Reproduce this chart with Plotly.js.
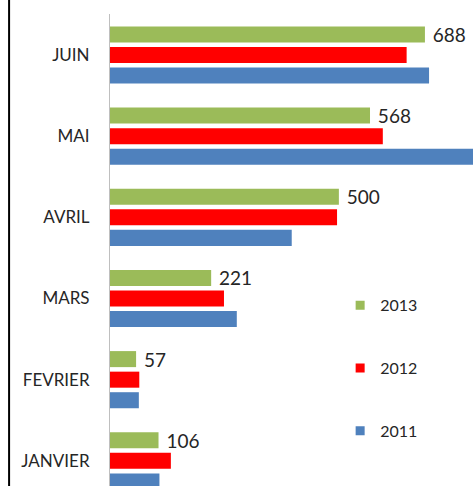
<!DOCTYPE html>
<html><head><meta charset="utf-8">
<script src="https://cdn.plot.ly/plotly-3.0.1.min.js"></script>
<style>html,body{margin:0;padding:0;background:#fff;}#chart{width:473px;height:486px;}</style>
</head><body><div id="chart"></div>
<script>
const categories = ['JANVIER', 'FEVRIER', 'MARS', 'AVRIL', 'MAI', 'JUIN'];
const years = ['2011', '2012', '2013'];
const legendYears = ['2013', '2012', '2011'];
const values2011 = [108, 63, 277, 397, 810, 697];
const values2012 = [133, 64, 249, 496, 596, 648];
const values2013 = [106, 57, 221, 500, 568, 688];
const colors = {'2011': '#4F81BD', '2012': '#FF0000', '2013': '#9BBB59'};
const seriesValues = {'2011': values2011, '2012': values2012, '2013': values2013};

const font = 'Lato, "Open Sans", sans-serif';
const traces = [];
years.forEach(function (yr) {
  const t = {
    type: 'bar', orientation: 'h', name: yr,
    y: categories, x: seriesValues[yr],
    marker: {color: colors[yr], line: {width: 0}},
    showlegend: false, hoverinfo: 'none'
  };
  if (yr === '2013') {
    t.texttemplate = '\u00a0%{x}';
    t.textposition = 'outside';
    t.constraintext = 'none';
    t.cliponaxis = false;
    t.textfont = {family: font, size: 19, color: '#262626'};
  }
  traces.push(t);
});
legendYears.forEach(function (yr) {
  traces.push({
    type: 'scatter', mode: 'markers', name: yr, legendgroup: yr,
    x: [null], y: [null],
    marker: {symbol: 'square', size: 9, color: colors[yr]},
    hoverinfo: 'none'
  });
});

const layout = {
  width: 473, height: 486,
  margin: {l: 110, r: 0, t: 14, b: 0, pad: 0},
  paper_bgcolor: '#ffffff', plot_bgcolor: '#ffffff',
  font: {family: font, color: '#262626'},
  barmode: 'group', bargap: 0.24, bargroupgap: 0.22,
  xaxis: {range: [0, 793], visible: false, fixedrange: true},
  yaxis: {
    type: 'category', range: [-0.31, 5.505], showgrid: false, zeroline: false,
    showline: true, linecolor: '#BFBFBF', linewidth: 1,
    ticks: '', ticklabelstandoff: 16,
    tickfont: {family: font, size: 17, color: '#262626'}
  },
  showlegend: true,
  legend: {
    x: 0.634, y: 0.419, xanchor: 'left', yanchor: 'top',
    traceorder: 'grouped', tracegroupgap: 39,
    font: {family: font, size: 16, color: '#262626'},
    bgcolor: 'rgba(0,0,0,0)', borderwidth: 0
  },
  shapes: [{
    type: 'line', xref: 'paper', yref: 'paper',
    x0: -0.278, x1: -0.278, y0: -0.1, y1: 1.1,
    line: {color: '#000000', width: 2}
  }]
};

Plotly.newPlot('chart', traces, layout, {staticPlot: true, displayModeBar: false});
</script></body></html>
